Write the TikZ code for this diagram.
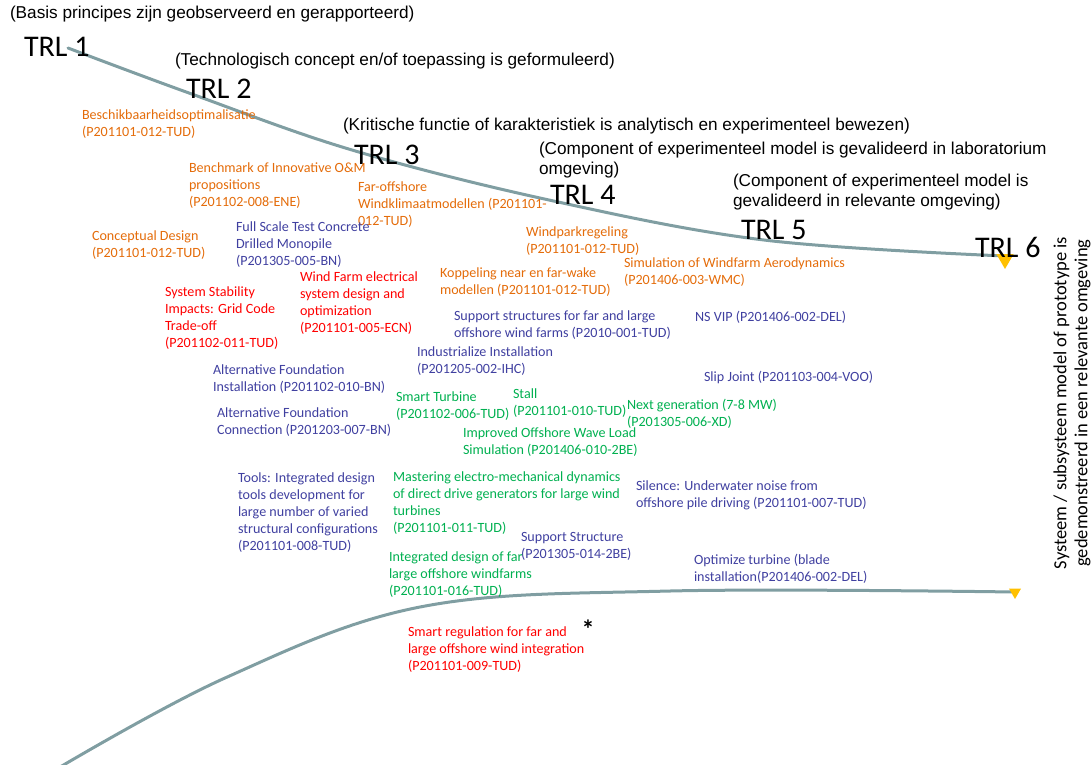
\documentclass[tikz,border=0pt]{standalone}
\usepackage{fontspec}
\setmainfont{Carlito}
\newfontfamily\arialfont{Liberation Sans}
\usetikzlibrary{shapes.geometric}
\definecolor{trlorange}{RGB}{228,108,10}
\definecolor{trlblue}{RGB}{64,64,160}
\definecolor{trlred}{RGB}{255,0,0}
\definecolor{trlgreen}{RGB}{0,176,80}
\definecolor{trlcurve}{RGB}{128,158,162}
\definecolor{trlyellow}{RGB}{255,192,0}

\begin{document}
\begin{tikzpicture}[
  x=1pt, y=-1pt,
  every node/.style={inner sep=0pt, outer sep=0pt},
  proj/.style={anchor=north west, align=left, font=\fontsize{14.1}{16.9}\selectfont},
  orangeproj/.style={proj, text=trlorange},
  blueproj/.style={proj, text=trlblue},
  redproj/.style={proj, text=trlred},
  greenproj/.style={proj, text=trlgreen},
  level/.style={anchor=west, font=\fontsize{30}{32}\selectfont},
  levdesc/.style={anchor=north west, align=left, font=\arialfont\fontsize{17.2}{20.5}\selectfont},
  curve/.style={draw=trlcurve, line width=3pt, line cap=round},
  marker/.style={regular polygon, regular polygon sides=3, shape border rotate=180, fill=trlyellow, inner sep=0pt}
]
\useasboundingbox (0,0) rectangle (1092,764);

\node[levdesc] (d1) at (10,6) {(Basis principes zijn geobserveerd en gerapporteerd)};
\node[levdesc] (d2) at (175,53) {(Technologisch concept en/of toepassing is geformuleerd)};
\node[levdesc] (d3) at (343,118) {(Kritische functie of karakteristiek is analytisch en experimenteel bewezen)};
\node[levdesc] (d4) at (539,142) {(Component of experimenteel model is gevalideerd in laboratorium\\omgeving)};
\node[levdesc] (d5) at (733,174) {(Component of experimenteel model is\\gevalideerd in relevante omgeving)};

\coordinate (top start) at (68,48);
\coordinate (top end) at (1005,256);
\coordinate (low start) at (55,770);
\coordinate (low end) at (1015,592);
\draw[curve] plot[smooth, tension=0.6] coordinates {(top start) (189,93) (352,150) (549,200) (764,240) (top end)};
\draw[curve] plot[smooth, tension=0.6] coordinates {(low start) (225,678) (420,607) (670,591) (low end)};
\node[marker, minimum size=20pt] (m6) at (1005,259) {};
\node[marker, minimum size=14pt] (mlow) at (1015,592) {};

\node[level] (trl1) at (24,47) {TRL 1};
\node[level] (trl2) at (186,89) {TRL 2};
\node[level] (trl3) at (354,155) {TRL 3};
\node[level] (trl4) at (550,195) {TRL 4};
\node[level] (trl5) at (741,230) {TRL 5};
\node[level] (trl6) at (975,247) {TRL 6};

\node[orangeproj] (beschik) at (82,110) {Beschikbaarheidsoptimalisatie\\(P201101-012-TUD)};
\node[orangeproj] (bench) at (189,163) {Benchmark of Innovative O\&M\\propositions\\(P201102-008-ENE)};
\node[orangeproj] (faroff) at (358,182) {Far-offshore\\Windklimaatmodellen (P201101-\\012-TUD)};
\node[orangeproj] (concept) at (92,231) {Conceptual Design\\(P201101-012-TUD)};
\node[blueproj] (fullscale) at (236,222) {Full Scale Test Concrete\\Drilled Monopile\\(P201305-005-BN)};
\node[orangeproj] (windpark) at (526,227) {Windparkregeling\\(P201101-012-TUD)};
\node[orangeproj] (simaero) at (624,258) {Simulation of Windfarm Aerodynamics\\(P201406-003-WMC)};
\node[orangeproj] (koppeling) at (440,268) {Koppeling near en far-wake\\modellen (P201101-012-TUD)};
\node[redproj] (stability) at (165,287) {System Stability\\Impacts: Grid Code\\Trade-off\\(P201102-011-TUD)};
\node[redproj] (electrical) at (300,272) {Wind Farm electrical\\system design and\\optimization\\(P201101-005-ECN)};
\node[blueproj] (supportfar) at (454,311) {Support structures for far and large\\offshore wind farms (P2010-001-TUD)};
\node[blueproj] (nsvip) at (695,311) {NS VIP (P201406-002-DEL)};
\node[blueproj] (industrial) at (417,347) {Industrialize Installation\\(P201205-002-IHC)};
\node[blueproj] (altinst) at (213,365) {Alternative Foundation\\Installation (P201102-010-BN)};
\node[blueproj] (slipjoint) at (704,371) {Slip Joint (P201103-004-VOO)};
\node[greenproj] (smartturb) at (396,392) {Smart Turbine\\(P201102-006-TUD)};
\node[greenproj] (stall) at (513,389) {Stall\\(P201101-010-TUD)};
\node[greenproj] (nextgen) at (627,399) {Next generation (7-8 MW)\\(P201305-006-XD)};
\node[blueproj] (altconn) at (217,408) {Alternative Foundation\\Connection (P201203-007-BN)};
\node[greenproj] (waveload) at (463,428) {Improved Offshore Wave Load\\Simulation (P201406-010-2BE)};
\node[blueproj] (tools) at (238,473) {Tools: Integrated design\\tools development for\\large number of varied\\structural configurations\\(P201101-008-TUD)};
\node[greenproj] (mastering) at (393,472) {Mastering electro-mechanical dynamics\\of direct drive generators for large wind\\turbines\\(P201101-011-TUD)};
\node[blueproj] (silence) at (636,481) {Silence: Underwater noise from\\offshore pile driving (P201101-007-TUD)};
\node[blueproj] (supportstr) at (521,532) {Support Structure\\(P201305-014-2BE)};
\node[greenproj] (integrated) at (389,552) {Integrated design of far\\large offshore windfarms\\(P201101-016-TUD)};
\node[blueproj] (optimize) at (694,554) {Optimize turbine (blade\\installation(P201406-002-DEL)};
\node[redproj] (smartreg) at (408,627) {Smart regulation for far and\\large offshore wind integration\\(P201101-009-TUD)};
\node[font=\fontsize{26}{26}\selectfont\bfseries] (star) at (588,629) {*};

\node[rotate=90, align=center, font=\fontsize{18.5}{21}\selectfont] (trl6desc) at (1072,403) {Systeem / subsysteem model of prototype is\\gedemonstreerd in een relevante omgeving};
\end{tikzpicture}
\end{document}
